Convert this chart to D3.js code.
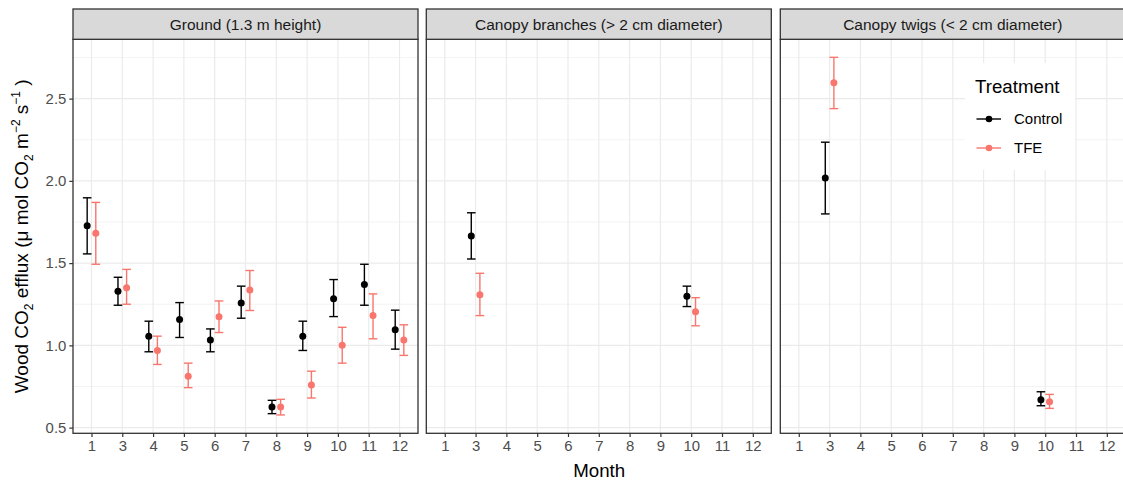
<!DOCTYPE html>
<html>
<head>
<meta charset="utf-8">
<script src="https://cdn.jsdelivr.net/npm/d3@7"></script>
<style>
  body { margin: 0; background: #fff; }
  text { font-family: "Liberation Sans", Arial, sans-serif; }
</style>
</head>
<body>
<div id="chart"></div>
<script>
const width = 1123;
const height = 483;

const months = ['1', '3', '4', '5', '6', '7', '8', '9', '10', '11', '12'];
const facets = ['Ground (1.3 m height)', 'Canopy branches (> 2 cm diameter)', 'Canopy twigs (< 2 cm diameter)'];
const treatments = ['Control', 'TFE'];
const yTicks = [0.5, 1.0, 1.5, 2.0, 2.5];
const yMinor = [0.75, 1.25, 1.75, 2.25, 2.75];

// Ground
const groundMonths = ['1', '3', '4', '5', '6', '7', '8', '9', '10', '11', '12'];
const groundControlMean = [1.727, 1.329, 1.056, 1.157, 1.032, 1.258, 0.625, 1.056, 1.283, 1.370, 1.095];
const groundControlLow = [1.556, 1.244, 0.961, 1.048, 0.961, 1.165, 0.585, 0.969, 1.175, 1.244, 0.977];
const groundControlHigh = [1.897, 1.414, 1.147, 1.260, 1.100, 1.360, 0.666, 1.147, 1.400, 1.493, 1.214];
const groundTFEMean = [1.681, 1.351, 0.969, 0.813, 1.174, 1.337, 0.625, 0.759, 1.000, 1.181, 1.032];
const groundTFELow = [1.493, 1.250, 0.884, 0.743, 1.078, 1.212, 0.577, 0.680, 0.892, 1.040, 0.939];
const groundTFEHigh = [1.869, 1.462, 1.056, 0.892, 1.270, 1.455, 0.672, 0.843, 1.110, 1.313, 1.125];

// Canopy branches
const branchMonths = ['3', '10'];
const branchControlMean = [1.665, 1.299];
const branchControlLow = [1.525, 1.236];
const branchControlHigh = [1.806, 1.360];
const branchTFEMean = [1.307, 1.204];
const branchTFELow = [1.181, 1.119];
const branchTFEHigh = [1.438, 1.290];

// Canopy twigs
const twigMonths = ['3', '10'];
const twigControlMean = [2.017, 0.670];
const twigControlLow = [1.799, 0.633];
const twigControlHigh = [2.235, 0.718];
const twigTFEMean = [2.597, 0.658];
const twigTFELow = [2.439, 0.617];
const twigTFEHigh = [2.751, 0.702];

const colors = { Control: '#000000', TFE: '#F8766D' };

function rows(facet, ms, treatment, mean, low, high) {
  return ms.map((m, i) => ({ facet, month: m, treatment, mean: mean[i], low: low[i], high: high[i] }));
}

const data = [
  ...rows(facets[0], groundMonths, 'Control', groundControlMean, groundControlLow, groundControlHigh),
  ...rows(facets[0], groundMonths, 'TFE', groundTFEMean, groundTFELow, groundTFEHigh),
  ...rows(facets[1], branchMonths, 'Control', branchControlMean, branchControlLow, branchControlHigh),
  ...rows(facets[1], branchMonths, 'TFE', branchTFEMean, branchTFELow, branchTFEHigh),
  ...rows(facets[2], twigMonths, 'Control', twigControlMean, twigControlLow, twigControlHigh),
  ...rows(facets[2], twigMonths, 'TFE', twigTFEMean, twigTFELow, twigTFEHigh),
];

const panelTop = 39.3;
const panelBottom = 433.3;
const stripTop = 9;
const panelLefts = [73, 426.3, 780.3];
const panelW = 345;

const svg = d3.select('#chart').append('svg')
  .attr('width', width)
  .attr('height', height);

const y = d3.scaleLinear().domain([0.4655, 2.8605]).range([panelBottom, panelTop]);
const x = d3.scalePoint().domain(months).range([0, panelW]).padding(0.6);
const step = x.step();
const dodge = { Control: -0.14 * step, TFE: 0.14 * step };
const capHalf = 0.14 * step;

facets.forEach((f, fi) => {
  const g = svg.append('g').attr('transform', `translate(${panelLefts[fi]},0)`);

  // grid
  g.selectAll('.minor').data(yMinor).enter().append('line')
    .attr('x1', 0).attr('x2', panelW)
    .attr('y1', (d) => y(d)).attr('y2', (d) => y(d))
    .attr('stroke', '#EBEBEB').attr('stroke-width', 0.6);
  g.selectAll('.major').data(yTicks).enter().append('line')
    .attr('x1', 0).attr('x2', panelW)
    .attr('y1', (d) => y(d)).attr('y2', (d) => y(d))
    .attr('stroke', '#EBEBEB').attr('stroke-width', 1.2);
  g.selectAll('.vmajor').data(months).enter().append('line')
    .attr('x1', (d) => x(d)).attr('x2', (d) => x(d))
    .attr('y1', panelTop).attr('y2', panelBottom)
    .attr('stroke', '#EBEBEB').attr('stroke-width', 1.2);

  // legend sits inside the last panel
  if (fi === 2) {
    const lg = svg.append('g').attr('class', 'legend');
    lg.append('rect').attr('x', 965).attr('y', 63).attr('width', 110).attr('height', 107).attr('fill', '#fff');
    lg.append('text').attr('x', 975).attr('y', 86).attr('dy', '0.35em')
      .style('font-size', '18.7px').attr('fill', '#000').text('Treatment');
    treatments.forEach((t, i) => {
      const ly = 119 + i * 29;
      lg.append('line').attr('x1', 976.5).attr('x2', 1001).attr('y1', ly).attr('y2', ly)
        .attr('stroke', colors[t]).attr('stroke-width', 1.4);
      lg.append('circle').attr('cx', 989).attr('cy', ly).attr('r', 3.3).attr('fill', colors[t]);
      lg.append('text').attr('x', 1014).attr('y', ly).attr('dy', '0.35em')
        .style('font-size', '15px').attr('fill', '#000').text(t);
    });
  }

  // data
  const fd = data.filter((d) => d.facet === f);
  const marks = g.append('g');
  const bar = marks.selectAll('.eb').data(fd).enter().append('g')
    .attr('transform', (d) => `translate(${x(d.month) + dodge[d.treatment]},0)`);
  bar.append('line').attr('x1', 0).attr('x2', 0)
    .attr('y1', (d) => y(d.low)).attr('y2', (d) => y(d.high))
    .attr('stroke', (d) => colors[d.treatment]).attr('stroke-width', 1.4);
  bar.append('line').attr('x1', -capHalf).attr('x2', capHalf)
    .attr('y1', (d) => y(d.low)).attr('y2', (d) => y(d.low))
    .attr('stroke', (d) => colors[d.treatment]).attr('stroke-width', 1.4);
  bar.append('line').attr('x1', -capHalf).attr('x2', capHalf)
    .attr('y1', (d) => y(d.high)).attr('y2', (d) => y(d.high))
    .attr('stroke', (d) => colors[d.treatment]).attr('stroke-width', 1.4);
  bar.append('circle').attr('cx', 0).attr('cy', (d) => y(d.mean)).attr('r', 3.5)
    .attr('fill', (d) => colors[d.treatment]);

  // panel border
  g.append('rect').attr('x', 0).attr('y', panelTop).attr('width', panelW).attr('height', panelBottom - panelTop)
    .attr('fill', 'none').attr('stroke', '#333333').attr('stroke-width', 1.3);

  // strip
  g.append('rect').attr('x', 0).attr('y', stripTop).attr('width', panelW).attr('height', panelTop - stripTop)
    .attr('fill', '#D9D9D9').attr('stroke', '#333333').attr('stroke-width', 1.3);
  g.append('text').attr('x', panelW / 2).attr('y', (stripTop + panelTop) / 2).attr('dy', '0.35em')
    .attr('text-anchor', 'middle').style('font-size', '15.5px').attr('fill', '#1A1A1A').text(f);

  // x axis
  const xa = g.append('g').attr('transform', `translate(0,${panelBottom})`)
    .call(d3.axisBottom(x).tickSize(3.7).tickPadding(3));
  xa.select('.domain').remove();
  xa.selectAll('line').attr('stroke', '#333333').attr('stroke-width', 1.2);
  xa.selectAll('text').style('font-size', '14.9px').attr('fill', '#4D4D4D')
    .style('font-family', '"Liberation Sans", Arial, sans-serif');

  if (fi === 0) {
    const ya = g.append('g').call(d3.axisLeft(y).tickValues(yTicks).tickFormat(d3.format('.1f')).tickSize(3.7).tickPadding(3));
    ya.select('.domain').remove();
    ya.selectAll('line').attr('stroke', '#333333').attr('stroke-width', 1.2);
    ya.selectAll('text').style('font-size', '14.9px').attr('fill', '#4D4D4D')
      .style('font-family', '"Liberation Sans", Arial, sans-serif');
  }
});

// axis titles
svg.append('text').attr('x', (panelLefts[0] + panelLefts[2] + panelW) / 2).attr('y', 470).attr('dy', '0.35em')
  .attr('text-anchor', 'middle').style('font-size', '18.7px').attr('fill', '#000').text('Month');

const yt = svg.append('text')
  .attr('transform', `translate(28,${(panelTop + panelBottom) / 2}) rotate(-90)`)
  .attr('text-anchor', 'middle').style('font-size', '19px').attr('fill', '#000');
yt.append('tspan').text('Wood CO');
yt.append('tspan').attr('dy', 5).style('font-size', '12px').text('2');
yt.append('tspan').attr('dy', -5).text(' efflux (\u03BC mol CO');
yt.append('tspan').attr('dy', 5).style('font-size', '12px').text('2');
yt.append('tspan').attr('dy', -5).text(' m');
yt.append('tspan').attr('dy', -8).style('font-size', '12px').text('\u22122');
yt.append('tspan').attr('dy', 8).text(' s');
yt.append('tspan').attr('dy', -8).style('font-size', '12px').text('\u22121');
yt.append('tspan').attr('dy', 8).text(' )');
</script>
</body>
</html>
